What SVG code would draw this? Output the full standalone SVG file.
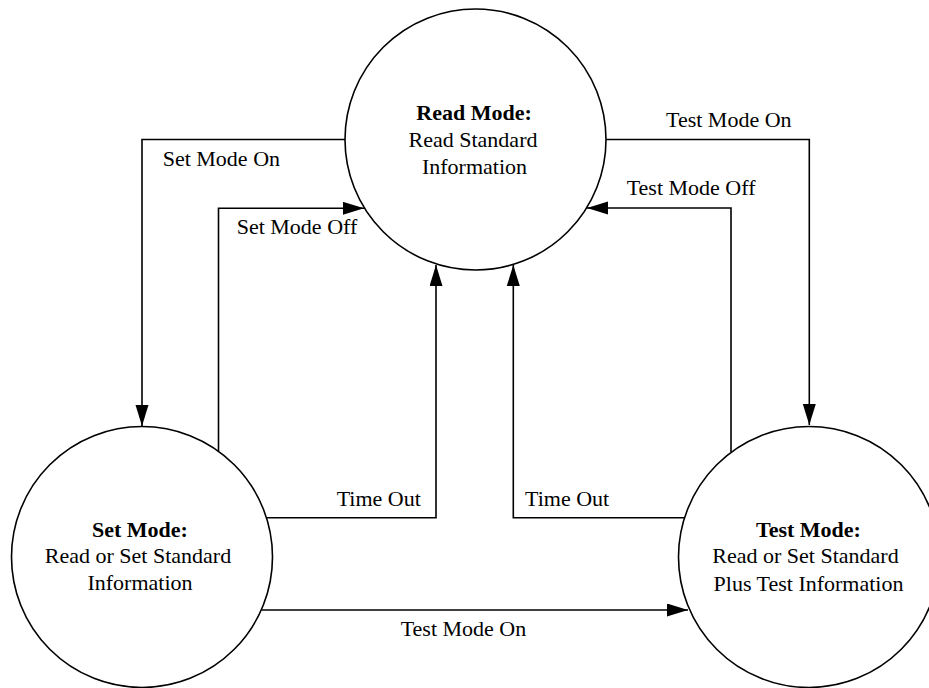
<svg xmlns="http://www.w3.org/2000/svg" width="929" height="688" viewBox="0 0 929 688">
<style>
  .node { fill: #ffffff; stroke: #000000; stroke-width: 1.6; }
  .edge { fill: none; stroke: #000000; stroke-width: 1.6; }
  text { font-family: "Liberation Serif", "Times New Roman", serif; font-size: 22px; fill: #000000; }
  .title { font-weight: bold; }
  .c { text-anchor: middle; }
</style>
<defs>
  <marker id="arrow" markerUnits="userSpaceOnUse" markerWidth="22" markerHeight="14" refX="21" refY="6.5" orient="auto">
    <path d="M0,0 L21,6.5 L0,13 Z" fill="#000000"/>
  </marker>
</defs>
<rect width="929" height="688" fill="#ffffff"/>

<g id="read-mode">
  <circle class="node" cx="475.5" cy="139.5" r="130.5"/>
  <text class="c title" x="474" y="120">Read Mode:</text>
  <text class="c" x="473" y="147">Read Standard</text>
  <text class="c" x="474.5" y="174">Information</text>
</g>

<g id="set-mode">
  <circle class="node" cx="142" cy="557" r="130.5"/>
  <text class="c title" x="140" y="537">Set Mode:</text>
  <text class="c" x="138" y="563">Read or Set Standard</text>
  <text class="c" x="140" y="590">Information</text>
</g>

<g id="test-mode">
  <circle class="node" cx="809" cy="557" r="130.5"/>
  <text class="c title" x="808.5" y="537">Test Mode:</text>
  <text class="c" x="805.5" y="563">Read or Set Standard</text>
  <text class="c" x="808.5" y="591">Plus Test Information</text>
</g>

<g id="connectors">
  <path class="edge" d="M345,139.5 H142 V426" marker-end="url(#arrow)"/>
  <path class="edge" d="M218.5,451.5 V208.3 H364" marker-end="url(#arrow)"/>
  <path class="edge" d="M266.5,517.7 H436 V265" marker-end="url(#arrow)"/>
  <path class="edge" d="M261.5,610 H688" marker-end="url(#arrow)"/>
  <path class="edge" d="M606,139.5 H809.3 V425" marker-end="url(#arrow)"/>
  <path class="edge" d="M731,452 V208 H587" marker-end="url(#arrow)"/>
  <path class="edge" d="M684,517.7 H513.3 V265" marker-end="url(#arrow)"/>
</g>

<g id="labels">
  <text x="162.7" y="166">Set Mode On</text>
  <text x="236.7" y="234">Set Mode Off</text>
  <text x="336.7" y="506">Time Out</text>
  <text x="400.7" y="636">Test Mode On</text>
  <text x="666" y="127">Test Mode On</text>
  <text x="626.7" y="195">Test Mode Off</text>
  <text x="525" y="506">Time Out</text>
</g>
</svg>
